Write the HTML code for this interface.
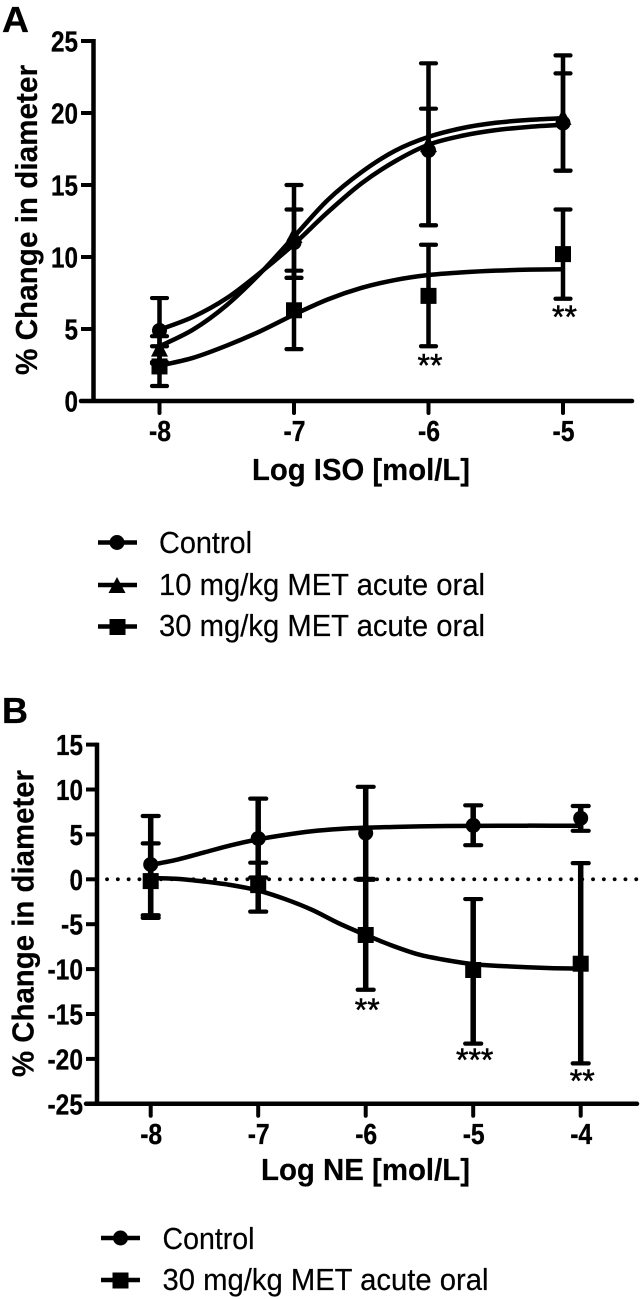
<!DOCTYPE html>
<html>
<head>
<meta charset="utf-8">
<title>Dose response charts</title>
<style>
html,body{margin:0;padding:0;background:#fff;}
svg{display:block;}
text{fill:#000;font-family:"Liberation Sans",sans-serif;}
.tick{font-weight:bold;font-size:29px;stroke:#000;stroke-width:0.3px;}
.title{font-weight:bold;font-size:31px;stroke:#000;stroke-width:0.2px;}
.legend{font-size:31px;stroke:#000;stroke-width:0.2px;}
.panel{font-weight:bold;font-size:36px;stroke:#000;stroke-width:0.3px;}
.sig{font-size:32px;stroke:#000;stroke-width:0.5px;}
</style>
</head>
<body>
<svg id="fig" xmlns="http://www.w3.org/2000/svg" width="641" height="1299" viewBox="0 0 641 1299">
  <rect x="0" y="0" width="641" height="1299" fill="#fff"/>
  <g id="chartA"></g>
  <g id="chartB"></g>

  <text class="panel" x="2" y="32" textLength="27" lengthAdjust="spacingAndGlyphs">A</text>
  <text class="panel" x="2" y="723">B</text>

  <text class="title" x="252" y="480" textLength="218" lengthAdjust="spacingAndGlyphs">Log ISO [mol/L]</text>
  <text class="title" transform="translate(37,375) rotate(-90)" textLength="310" lengthAdjust="spacingAndGlyphs">% Change in diameter</text>
  <text class="title" x="261" y="1180" textLength="209" lengthAdjust="spacingAndGlyphs">Log NE [mol/L]</text>
  <text class="title" transform="translate(33.5,1077) rotate(-90)" textLength="307" lengthAdjust="spacingAndGlyphs">% Change in diameter</text>

  <g>
    <g>
      <line x1="98" x2="137" y1="542.5" y2="542.5" stroke="#000" stroke-width="4.5"/>
      <circle cx="117" cy="542.5" r="7.5" fill="#000"/>
      <text class="legend" x="159" y="553" textLength="93" lengthAdjust="spacingAndGlyphs">Control</text>
    </g>
    <g>
      <line x1="98" x2="137" y1="585" y2="585" stroke="#000" stroke-width="4.5"/>
      <polygon points="117,577 125.500,593 108.500,593" fill="#000"/>
      <text class="legend" x="159" y="595" textLength="326" lengthAdjust="spacingAndGlyphs">10 mg/kg MET acute oral</text>
    </g>
    <g>
      <line x1="98" x2="137" y1="626.5" y2="626.5" stroke="#000" stroke-width="4.5"/>
      <rect x="109.500" y="619" width="16" height="16" fill="#000"/>
      <text class="legend" x="159" y="636" textLength="326" lengthAdjust="spacingAndGlyphs">30 mg/kg MET acute oral</text>
    </g>
  </g>

  <g>
    <g>
      <line x1="101" x2="140" y1="1238" y2="1238" stroke="#000" stroke-width="4.5"/>
      <circle cx="120.500" cy="1238" r="7.5" fill="#000"/>
      <text class="legend" x="162.500" y="1249" textLength="92" lengthAdjust="spacingAndGlyphs">Control</text>
    </g>
    <g>
      <line x1="101" x2="140" y1="1280" y2="1280" stroke="#000" stroke-width="4.5"/>
      <rect x="112.500" y="1272.500" width="16" height="16" fill="#000"/>
      <text class="legend" x="162.500" y="1290" textLength="326" lengthAdjust="spacingAndGlyphs">30 mg/kg MET acute oral</text>
    </g>
  </g>
</svg>
<script>
// ---- Panel A data ----
const aDoses = [-8, -7, -6, -5];
const aXTicks = [-8, -7, -6, -5];
const aXTickLabels = ['-8', '-7', '-6', '-5'];
const aYTicks = [0, 5, 10, 15, 20, 25];
const aYTickLabels = ['0', '5', '10', '15', '20', '25'];
const aControlMean = [4.9, 11.0, 17.4, 19.3];
const aControlUpper = [7.15, 13.3, 20.3, 22.75];
const aControlLower = [2.6, 8.55, 12.2, 16.0];
const aTenMean = [3.6, 11.5, 17.8, 19.7];
const aTenUpper = [4.5, 15.0, 23.45, 24.0];
const aTenLower = [2.7, 8.55, 12.2, 16.0];
const aThirtyMean = [2.4, 6.3, 7.3, 10.2];
const aThirtyUpper = [3.8, 9.05, 10.85, 13.3];
const aThirtyLower = [1.04, 3.6, 3.8, 7.1];
const aCurveDoses = [-8, -7.75, -7.5, -7.25, -7, -6.75, -6.5, -6.25, -6, -5.75, -5.5, -5.25, -5];
const aControlCurve = [4.95, 5.84, 7.14, 8.92, 10.9, 13.1, 15.1, 16.64, 17.8, 18.42, 18.81, 19.04, 19.18];
const aTenCurve = [3.8, 4.96, 6.66, 8.88, 11.41, 13.95, 15.88, 17.37, 18.34, 18.95, 19.32, 19.52, 19.64];
const aThirtyCurve = [2.45, 3.0, 3.85, 4.85, 6.0, 7.05, 7.85, 8.4, 8.75, 8.93, 9.05, 9.12, 9.15];
const aSigDoses = [-6, -5];
const aSigLabels = ['**', '**'];
const aSigValues = [2.65, 6.0];

// ---- Panel B data ----
const bDoses = [-8, -7, -6, -5, -4];
const bXTicks = [-8, -7, -6, -5, -4];
const bXTickLabels = ['-8', '-7', '-6', '-5', '-4'];
const bYTicks = [-25, -20, -15, -10, -5, 0, 5, 10, 15];
const bYTickLabels = ['-25', '-20', '-15', '-10', '-5', '0', '5', '10', '15'];
const bControlMean = [1.65, 4.55, 5.15, 6.0, 6.8];
const bControlUpper = [7.05, 8.98, 10.3, 8.24, 8.16];
const bControlLower = [-4.0, 0.2, 0.05, 3.8, 5.4];
const bThirtyMean = [-0.2, -0.65, -6.2, -10.1, -9.4];
const bThirtyUpper = [4.0, 1.85, -0.05, -2.2, 1.8];
const bThirtyLower = [-4.3, -3.6, -12.3, -18.3, -20.5];
const bCurveDoses = [-8, -7.75, -7.5, -7.25, -7, -6.75, -6.5, -6.25, -6, -5.75, -5.5, -5.25, -5, -4.75, -4.5, -4.25, -4];
const bControlCurve = [1.6, 2.2, 3.0, 3.8, 4.45, 4.95, 5.35, 5.6, 5.75, 5.83, 5.9, 5.93, 5.95, 5.96, 5.97, 5.97, 5.97];
const bThirtyCurve = [0.15, 0.05, -0.25, -0.65, -1.25, -2.2, -3.4, -4.9, -6.2, -7.4, -8.4, -9.0, -9.45, -9.65, -9.8, -9.9, -9.95];
const bSigDoses = [-6, -5, -4];
const bSigLabels = ['**', '***', '**'];
const bSigValues = [-14.3, -19.85, -22.2];

const NS = 'http://www.w3.org/2000/svg';

function mk(parent, tag, attrs, name) {
  const el = document.createElementNS(NS, tag);
  for (const k in attrs) el.setAttribute(k, attrs[k]);
  
  
  parent.appendChild(el);
  return el;
}

function smoothPath(xs, ys) {
  let d = 'M' + xs[0].toFixed(2) + ' ' + ys[0].toFixed(2);
  for (let i = 0; i < xs.length - 1; i++) {
    const i0 = Math.max(i - 1, 0), i3 = Math.min(i + 2, xs.length - 1);
    const c1x = xs[i] + (xs[i + 1] - xs[i0]) / 6, c1y = ys[i] + (ys[i + 1] - ys[i0]) / 6;
    const c2x = xs[i + 1] - (xs[i3] - xs[i]) / 6, c2y = ys[i + 1] - (ys[i3] - ys[i]) / 6;
    d += ' C' + c1x.toFixed(2) + ' ' + c1y.toFixed(2) + ' ' + c2x.toFixed(2) + ' ' + c2y.toFixed(2) + ' ' + xs[i + 1].toFixed(2) + ' ' + ys[i + 1].toFixed(2);
  }
  return d;
}

function drawAxes(g, o) {
  mk(g, 'line', {x1: o.axisX, x2: o.axisX, y1: o.y(o.yTicks[o.yTicks.length - 1]) - 2, y2: o.baseY + 2, stroke: '#000', 'stroke-width': 4.5}, 'y-axis-line');
  mk(g, 'line', {x1: o.tickLeft, x2: o.axisEnd, y1: o.baseY, y2: o.baseY, stroke: '#000', 'stroke-width': 4.5, 'stroke-linecap': 'round'}, 'x-axis-line');
  o.yTicks.forEach(function (v, i) {
    mk(g, 'line', {x1: o.tickLeft, x2: o.axisX, y1: o.y(v), y2: o.y(v), stroke: '#000', 'stroke-width': 4}, 'y-tick');
    const t = mk(g, 'text', {x: o.tickLeft - 3, y: o.y(v) + 10.5, 'text-anchor': 'end', 'class': 'tick', textLength: o.yTickLabels[i].length * 13.5 + (o.yTickLabels[i][0] === '-' ? -5 : 0), lengthAdjust: 'spacingAndGlyphs'}, 'y-tick-label');
    t.textContent = o.yTickLabels[i];
  });
  o.xTicks.forEach(function (v, i) {
    mk(g, 'line', {x1: o.x(v), x2: o.x(v), y1: o.baseY, y2: o.baseY + 12, stroke: '#000', 'stroke-width': 4, 'stroke-linecap': 'round'}, 'x-tick');
    const t = mk(g, 'text', {x: o.x(v) + 0.5, y: o.baseY + 40, 'text-anchor': 'middle', 'class': 'tick', textLength: 22, lengthAdjust: 'spacingAndGlyphs'}, 'x-tick-label');
    t.textContent = o.xTickLabels[i];
  });
}

function drawCurve(g, o, doses, values, name) {
  mk(g, 'path', {d: smoothPath(doses.map(o.x), values.map(o.y)), fill: 'none', stroke: '#000', 'stroke-width': o.curveWidth}, name);
}

function drawBars(g, o, doses, upper, lower, name) {
  doses.forEach(function (d, i) {
    const x = o.x(d);
    mk(g, 'line', {x1: x, x2: x, y1: o.y(upper[i]), y2: o.y(lower[i]), stroke: '#000', 'stroke-width': o.stemWidth}, name + '-error-bar');
    mk(g, 'line', {x1: x - o.capHalf, x2: x + o.capHalf, y1: o.y(upper[i]), y2: o.y(upper[i]), stroke: '#000', 'stroke-width': 4.2, 'stroke-linecap': 'round'}, name + '-upper-cap');
    mk(g, 'line', {x1: x - o.capHalf, x2: x + o.capHalf, y1: o.y(lower[i]), y2: o.y(lower[i]), stroke: '#000', 'stroke-width': 4.2, 'stroke-linecap': 'round'}, name + '-lower-cap');
  });
}

function drawMarkers(g, o, doses, means, kind, name) {
  doses.forEach(function (d, i) {
    const x = o.x(d), y = o.y(means[i]);
    if (kind === 'circle') {
      mk(g, 'circle', {cx: x, cy: y, r: 7.5, fill: '#000'}, name + '-point');
    } else if (kind === 'square') {
      mk(g, 'rect', {x: x - 8, y: y - 8, width: 16, height: 16, fill: '#000'}, name + '-point');
    } else {
      mk(g, 'polygon', {points: x + ',' + (y - 9) + ' ' + (x + 8.5) + ',' + (y + 7.5) + ' ' + (x - 8.5) + ',' + (y + 7.5), fill: '#000'}, name + '-point');
    }
  });
}

function drawSig(g, o, doses, labels, values) {
  doses.forEach(function (d, i) {
    const t = mk(g, 'text', {x: o.x(d) + 1.5, y: o.y(values[i]) + 13.5, 'text-anchor': 'middle', 'class': 'sig'}, 'significance-marker');
    t.textContent = labels[i];
  });
}

// ---- Panel A ----
const aX = function (v) { return 159.5 + (v + 8) * 134.5; };
const aY = function (v) { return 401 - v * 14.4; };
const optsA = {x: aX, y: aY, axisX: 93.5, axisEnd: 632, tickLeft: 81, baseY: 401, xTicks: aXTicks, xTickLabels: aXTickLabels, yTicks: aYTicks, yTickLabels: aYTickLabels, curveWidth: 4.5, stemWidth: 4.5, capHalf: 7.5};
const chartA = document.getElementById('chartA');
drawAxes(chartA, optsA);
drawBars(chartA, optsA, aDoses, aTenUpper, aTenLower, 'ten-mg');
drawBars(chartA, optsA, aDoses, aControlUpper, aControlLower, 'control');
drawBars(chartA, optsA, aDoses, aThirtyUpper, aThirtyLower, 'thirty-mg');
drawCurve(chartA, optsA, aCurveDoses, aControlCurve, 'control-curve');
drawCurve(chartA, optsA, aCurveDoses, aTenCurve, 'ten-mg-curve');
drawCurve(chartA, optsA, aCurveDoses, aThirtyCurve, 'thirty-mg-curve');
drawMarkers(chartA, optsA, aDoses, aControlMean, 'circle', 'control');
drawMarkers(chartA, optsA, aDoses, aTenMean, 'triangle', 'ten-mg');
drawMarkers(chartA, optsA, aDoses, aThirtyMean, 'square', 'thirty-mg');
drawSig(chartA, optsA, aSigDoses, aSigLabels, aSigValues);

// ---- Panel B ----
const bX = function (v) { return 150.7 + (v + 8) * 107.5; };
const bY = function (v) { return 879.3 - v * 8.98; };
const optsB = {x: bX, y: bY, axisX: 97, axisEnd: 637, tickLeft: 86, baseY: 1103.8, xTicks: bXTicks, xTickLabels: bXTickLabels, yTicks: bYTicks, yTickLabels: bYTickLabels, curveWidth: 4.5, stemWidth: 5.5, capHalf: 8};
const chartB = document.getElementById('chartB');
drawAxes(chartB, optsB);
mk(chartB, 'line', {x1: 107, x2: 637, y1: bY(0), y2: bY(0), stroke: '#000', 'stroke-width': 3.8, 'stroke-linecap': 'round', 'stroke-dasharray': '0.1 10.7'}, 'zero-reference-line');
drawBars(chartB, optsB, bDoses, bControlUpper, bControlLower, 'control');
drawBars(chartB, optsB, bDoses, bThirtyUpper, bThirtyLower, 'thirty-mg');
drawCurve(chartB, optsB, bCurveDoses, bControlCurve, 'control-curve');
drawCurve(chartB, optsB, bCurveDoses, bThirtyCurve, 'thirty-mg-curve');
drawMarkers(chartB, optsB, bDoses, bControlMean, 'circle', 'control');
drawMarkers(chartB, optsB, bDoses, bThirtyMean, 'square', 'thirty-mg');
drawSig(chartB, optsB, bSigDoses, bSigLabels, bSigValues);
</script>
</body>
</html>
